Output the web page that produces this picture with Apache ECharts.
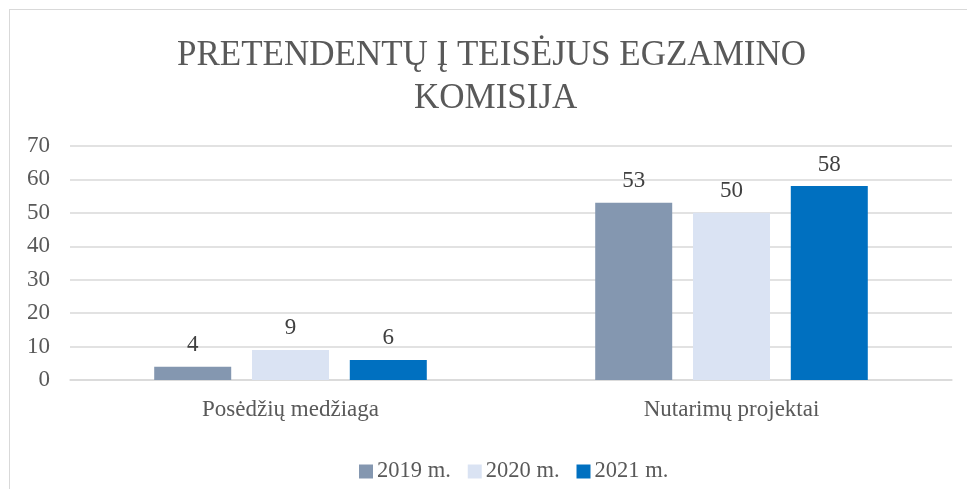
<!DOCTYPE html>
<html>
<head>
<meta charset="utf-8">
<script src="https://cdn.jsdelivr.net/npm/echarts@6/dist/echarts.min.js"></script>
<style>
  html, body { margin: 0; padding: 0; background: #fff; }
  #main { width: 967px; height: 489px; }
  #frame { position: absolute; left: 9px; top: 9px; width: 980px; height: 500px;
    border: 1.5px solid #d9d9d9; pointer-events: none; }
</style>
</head>
<body>
<div id="main"></div>
<div id="frame"></div>
<script>
var titleLines = ['PRETENDENTŲ Į TEISĖJUS EGZAMINO', 'KOMISIJA']
var categories = ['Posėdžių medžiaga', 'Nutarimų projektai']
var seriesNames = ['2019 m.', '2020 m.', '2021 m.']
var values2019 = [4, 53]
var values2020 = [9, 50]
var values2021 = [6, 58]
var colors = ['#8497B0', '#DAE3F3', '#0070C0']

var chart = echarts.init(document.getElementById('main'))
var font = '"Liberation Serif", "Times New Roman", serif'

var titleStyle = {
  color: '#595959',
  fontFamily: font,
  fontSize: 35,
  fontWeight: 'normal',
  lineHeight: 43
}

function bar(name, data, color) {
  return {
    name: name,
    type: 'bar',
    data: data,
    barWidth: 77,
    barGap: '27%',
    itemStyle: { color: color },
    label: {
      show: true,
      position: 'top',
      distance: 10,
      color: '#404040',
      fontFamily: font,
      fontSize: 23
    }
  }
}

chart.setOption({
  animation: false,
  color: colors,
  // two lines placed separately, the Excel title sits a bit right of centre
  title: [
    { text: titleLines[0], left: 172, top: 29, textStyle: titleStyle },
    { text: titleLines[1], left: 409, top: 72, textStyle: titleStyle }
  ],
  grid: {
    left: 70,
    right: 15,
    top: 146,
    bottom: 109
  },
  legend: {
    top: 455,
    left: 354,
    itemWidth: 14,
    itemHeight: 14,
    itemGap: 17,
    icon: 'rect',
    textStyle: { color: '#595959', fontFamily: font, fontSize: 22.5, padding: [0, 0, 0, -1] },
    data: seriesNames
  },
  xAxis: {
    type: 'category',
    data: categories,
    axisLine: { lineStyle: { color: '#d9d9d9', width: 1.5 } },
    axisTick: { show: false },
    axisLabel: {
      color: '#595959',
      fontFamily: font,
      fontSize: 23,
      margin: 18
    }
  },
  yAxis: {
    type: 'value',
    min: 0,
    max: 70,
    interval: 10,
    axisLine: { show: false },
    axisTick: { show: false },
    splitLine: { lineStyle: { color: '#d9d9d9', width: 1.5 } },
    axisLabel: {
      color: '#595959',
      fontFamily: font,
      fontSize: 23,
      margin: 20
    }
  },
  series: [
    bar(seriesNames[0], values2019, colors[0]),
    bar(seriesNames[1], values2020, colors[1]),
    bar(seriesNames[2], values2021, colors[2])
  ]
})
</script>
</body>
</html>
